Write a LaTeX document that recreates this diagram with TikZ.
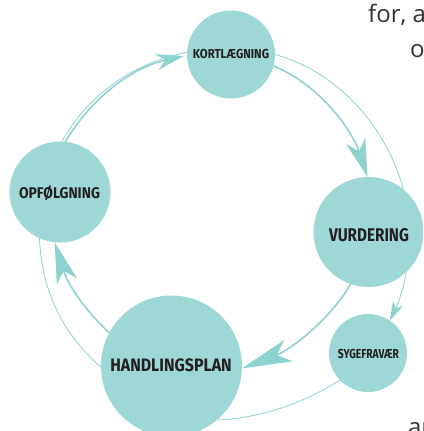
\documentclass[tikz,border=0pt]{standalone}
\usepackage{fontspec}
\setmainfont{Open Sans}
\newfontfamily\labelfont{Fira Sans}
\usetikzlibrary{arrows.meta}
\definecolor{ringfill}{RGB}{157,216,214}
\definecolor{ringline}{RGB}{140,210,207}
\definecolor{labelink}{RGB}{35,31,32}
\definecolor{bodyink}{RGB}{50,50,50}
\pgfdeclarelayer{links}
\pgfsetlayers{links,main}
% stage caption: size, horizontal squeeze, text
\newcommand{\stagecaption}[3]{\fontsize{#1}{#1}\selectfont\scalebox{#2}[1]{#3}}
\begin{document}
\begin{tikzpicture}[x=1pt,y=-1pt,
  stage/.style={circle, fill=ringfill, inner sep=0pt, outer sep=0pt},
  caption/.style={inner sep=0pt, text=labelink, font=\labelfont\bfseries},
  link/.style={draw=ringline, line width=1.6pt},
  thinlink/.style={draw=ringline, line width=0.8pt},
  bodytext/.style={inner sep=0pt, anchor=base west, text=bodyink, font=\fontsize{24}{28}\selectfont}]
\useasboundingbox (0,0) rectangle (423,431);
\clip (0,0) rectangle (423,431);

% the five stages of the cycle
\node[stage, minimum size=88pt]  (K) at (231,54.5) {};
\node[stage, minimum size=101pt] (O) at (60,192) {};
\node[stage, minimum size=110pt] (V) at (368.5,232) {};
\node[stage, minimum size=78pt]  (S) at (368,353) {};
\node[stage, minimum size=141pt] (H) at (171.5,366) {};

\node[caption] (Kt) at (231,53.7)   {\stagecaption{13}{0.875}{KORTLÆGNING}};
\node[caption] (Ot) at (59.5,193)   {\stagecaption{15.5}{0.895}{OPFØLGNING}};
\node[caption] (Vt) at (369,235.6)  {\stagecaption{18.4}{0.83}{VURDERING}};
\node[caption] (Ht) at (171,365.5)  {\stagecaption{18}{0.885}{HANDLINGSPLAN}};
\node[caption] (St) at (368.5,353.5){\stagecaption{13}{0.79}{SYGEFRAVÆR}};

% connectors, kept behind the circles
\begin{pgfonlayer}{links}
  \coordinate (outer) at (409,225);
  % main cycle
  \draw[link, -{Stealth[length=28pt,width=16pt,inset=9pt]}, shorten >=3pt]
    (O.84) .. controls (90,100) and (130,68) .. (K.181);
  \draw[thinlink] (O.88) .. controls (86,99) and (128,64) .. (K.177);
  \draw[link, -{Stealth[length=38pt,width=20pt,inset=11pt]}]
    (K.345) .. controls (320,85) and (352,130) .. (V.91.6);
  \draw[link, -{Stealth[length=50pt,width=23pt,inset=13pt]}]
    (V.251) .. controls (330,320) and (290,350) .. (H.358.4);
  \draw[link, -{Stealth[length=41pt,width=21pt,inset=11pt]}]
    (H.152.5) .. controls (85,310) and (68,285) .. (O.264.5);
  % outer thin paths
  \draw[thinlink, -{Stealth[length=19pt,width=11pt,inset=5pt]}]
    (K.0) .. controls (350,75) and (405,150) .. (outer)
    .. controls (411,265) and (402,295) .. (S.56);
  \draw[thinlink] (O.246.5) .. controls (42,300) and (70,340) .. (H.181.6);
  \draw[thinlink] (S.224) .. controls (300,405) and (260,418) .. (H.310.6);
\end{pgfonlayer}

% running text at the margin
\node[bodytext] (line1) at (368,22) {for, a};
\node[bodytext] (line2) at (410,57) {o};
\node[bodytext] (line3) at (408,435) {au};
\end{tikzpicture}
\end{document}
